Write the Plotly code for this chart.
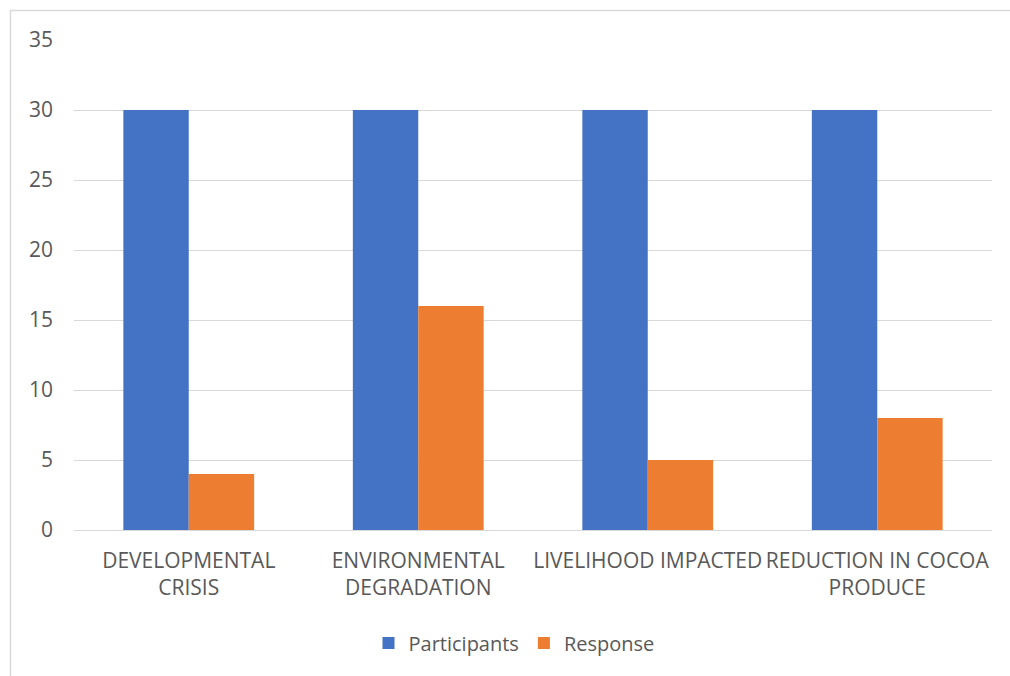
import plotly.graph_objects as go

categories = ["DEVELOPMENTAL<br>CRISIS", "ENVIRONMENTAL<br>DEGRADATION",
              "LIVELIHOOD IMPACTED", "REDUCTION IN COCOA<br>PRODUCE"]
participants = [30, 30, 30, 30]
response = [4, 16, 5, 8]
y_ticks = [0, 5, 10, 15, 20, 25, 30, 35]

TEXT = "#595959"
GRID = "#d9d9d9"
FONT = "Open Sans, Calibri, sans-serif"

fig = go.Figure()
fig.add_trace(go.Bar(name="Participants", x=categories, y=participants,
                     marker=dict(color="#4472C4", line=dict(width=0))))
fig.add_trace(go.Bar(name="Response", x=categories, y=response,
                     marker=dict(color="#ED7D31", line=dict(width=0))))

# plot area: x 74..992 px, y 40..530 px
L, R, T, B = 74, 18, 40, 146
W, H = 1010, 676
pw, ph = W - L - R, H - T - B

def px_x(v):
    return (v - L) / pw

def px_y(v):
    return (H - B - v) / ph

fig.update_layout(
    width=W, height=H,
    margin=dict(l=L, r=R, t=T, b=B, pad=0),
    paper_bgcolor="white", plot_bgcolor="white",
    barmode="group", bargap=0.43, bargroupgap=0,
    font=dict(family=FONT, size=21, color=TEXT),
    showlegend=True,
    legend=dict(orientation="h", x=px_x(514), xanchor="center",
                y=px_y(643), yanchor="middle",
                font=dict(size=20, color=TEXT), itemwidth=30,
                traceorder="normal"),
    xaxis=dict(showgrid=False, showline=False, ticks="",
               tickfont=dict(size=21, color=TEXT), ticklabelstandoff=16),
    yaxis=dict(range=[0, 35], tickvals=y_ticks, showgrid=True,
               gridcolor=GRID, gridwidth=1, zeroline=True,
               zerolinecolor=GRID, zerolinewidth=1, showline=False,
               ticks="", tickfont=dict(size=21, color=TEXT),
               ticklabelstandoff=20),
    shapes=[dict(type="rect", xref="paper", yref="paper",
                 x0=px_x(10.5), x1=px_x(1015), y0=px_y(690), y1=px_y(10.5),
                 line=dict(color=GRID, width=1.5), fillcolor="rgba(0,0,0,0)",
                 layer="below")],
)

fig.write_html("out.html")
